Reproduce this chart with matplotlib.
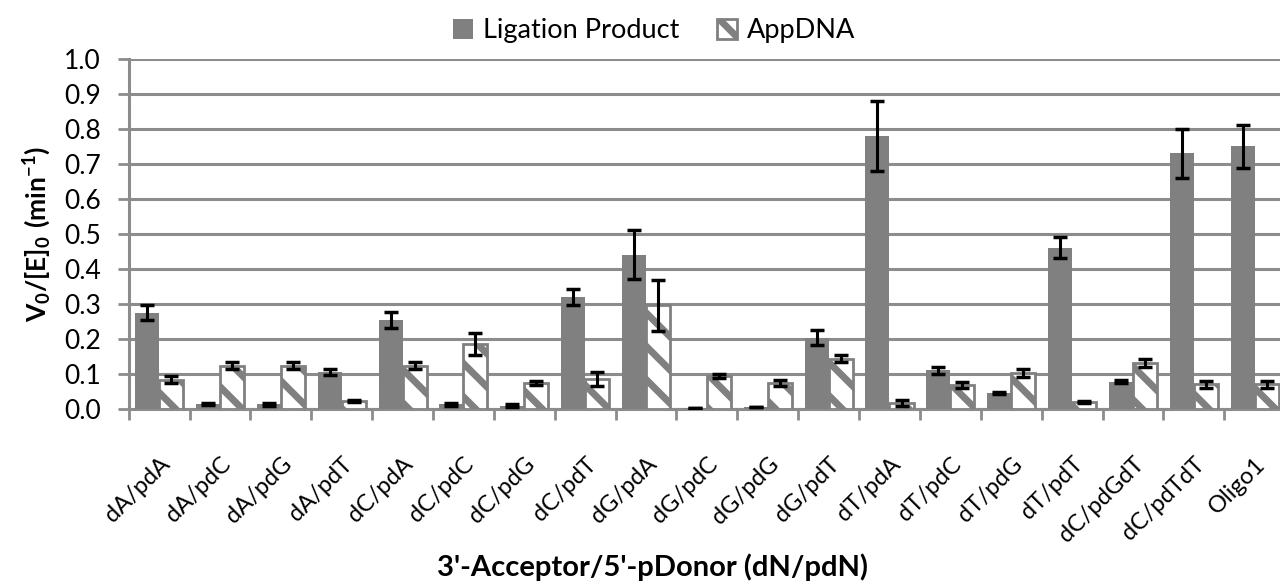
import matplotlib
matplotlib.use('Agg')
import matplotlib.pyplot as plt
import numpy as np

# values
categories = ['dA/pdA', 'dA/pdC', 'dA/pdG', 'dA/pdT', 'dC/pdA', 'dC/pdC', 'dC/pdG',
              'dC/pdT', 'dG/pdA', 'dG/pdC', 'dG/pdG', 'dG/pdT', 'dT/pdA', 'dT/pdC',
              'dT/pdG', 'dT/pdT', 'dC/pdGdT', 'dC/pdTdT', 'Oligo1']
ligation = [0.275, 0.015, 0.013, 0.105, 0.254, 0.013, 0.010, 0.320, 0.440, 0.003,
            0.005, 0.204, 0.780, 0.111, 0.046, 0.460, 0.078, 0.730, 0.750]
ligation_err = [0.021, 0.003, 0.003, 0.009, 0.022, 0.003, 0.005, 0.022, 0.070, 0.0,
                0.0, 0.021, 0.100, 0.010, 0.004, 0.030, 0.005, 0.070, 0.061]
appdna = [0.083, 0.124, 0.124, 0.024, 0.124, 0.185, 0.075, 0.086, 0.296, 0.095,
          0.074, 0.144, 0.017, 0.069, 0.103, 0.020, 0.132, 0.071, 0.071]
appdna_err = [0.010, 0.010, 0.010, 0.003, 0.010, 0.031, 0.006, 0.021, 0.072, 0.006,
              0.009, 0.010, 0.009, 0.009, 0.011, 0.003, 0.011, 0.010, 0.010]
yticks = [0.0, 0.1, 0.2, 0.3, 0.4, 0.5, 0.6, 0.7, 0.8, 0.9, 1.0]

plt.rcParams['font.family'] = ['Lato', 'DejaVu Sans']
plt.rcParams['mathtext.fontset'] = 'custom'
plt.rcParams['mathtext.rm'] = 'Lato'
plt.rcParams['mathtext.bf'] = 'Lato:bold'
plt.rcParams['hatch.linewidth'] = 5.0
plt.rcParams['hatch.color'] = '#808080'

grey = '#808080'
axis_grey = '#8c8c8c'

fig = plt.figure(figsize=(12.8, 5.88), dpi=100)
ax = fig.add_axes([0.1005, 0.3044, 0.9035, 0.5953])

x = np.arange(len(categories))
w = 0.395

err_kw = dict(ecolor='black', elinewidth=2.2, capsize=5, capthick=2.5)
ax.bar(x - w / 2, ligation, w, color=grey, yerr=ligation_err,
       error_kw=err_kw, label='Ligation Product', zorder=3)
ax.bar(x + w / 2, appdna, w, color='white', edgecolor=grey, linewidth=2,
       hatch='\\', yerr=appdna_err, error_kw=err_kw, label='AppDNA', zorder=3)

ax.set_xlim(-0.5, len(categories) - 0.5)
ax.set_ylim(0, 1.0)
ax.set_yticks(yticks)
ax.set_yticklabels(['%.1f' % t for t in yticks], fontsize=19)
ax.yaxis.grid(True, color=axis_grey, linewidth=2.2, zorder=0)
ax.set_axisbelow(True)

ax.set_xticks(np.arange(len(categories) + 1) - 0.5)
ax.set_xticklabels([])
ax.set_xticks(x, minor=True)
ax.set_xticklabels(categories, minor=True, rotation=45, ha='right',
                   rotation_mode='anchor', fontsize=17)
ax.tick_params(axis='x', which='minor', length=0, pad=32)
ax.tick_params(axis='x', which='major', length=8, width=2, color=axis_grey)
ax.tick_params(axis='y', length=8, width=2, color=axis_grey, pad=12)

for side in ['top', 'right']:
    ax.spines[side].set_visible(False)
for side in ['left', 'bottom']:
    ax.spines[side].set_color(axis_grey)
    ax.spines[side].set_linewidth(2.2)

ax.set_ylabel(r'$\mathbf{V_0/[E]_0\ (min^{-1})}$', fontsize=19, labelpad=8)
fig.text(0.51, 0.02, "3'-Acceptor/5'-pDonor (dN/pdN)", ha='center',
         fontsize=21, fontweight='bold')

fig.legend(loc='upper center', bbox_to_anchor=(0.511, 1.01), ncol=2, frameon=False,
           fontsize=19.5, handlelength=0.75, handleheight=0.75, handletextpad=0.35,
           columnspacing=1.4)

fig.savefig('out.png', dpi=100)
